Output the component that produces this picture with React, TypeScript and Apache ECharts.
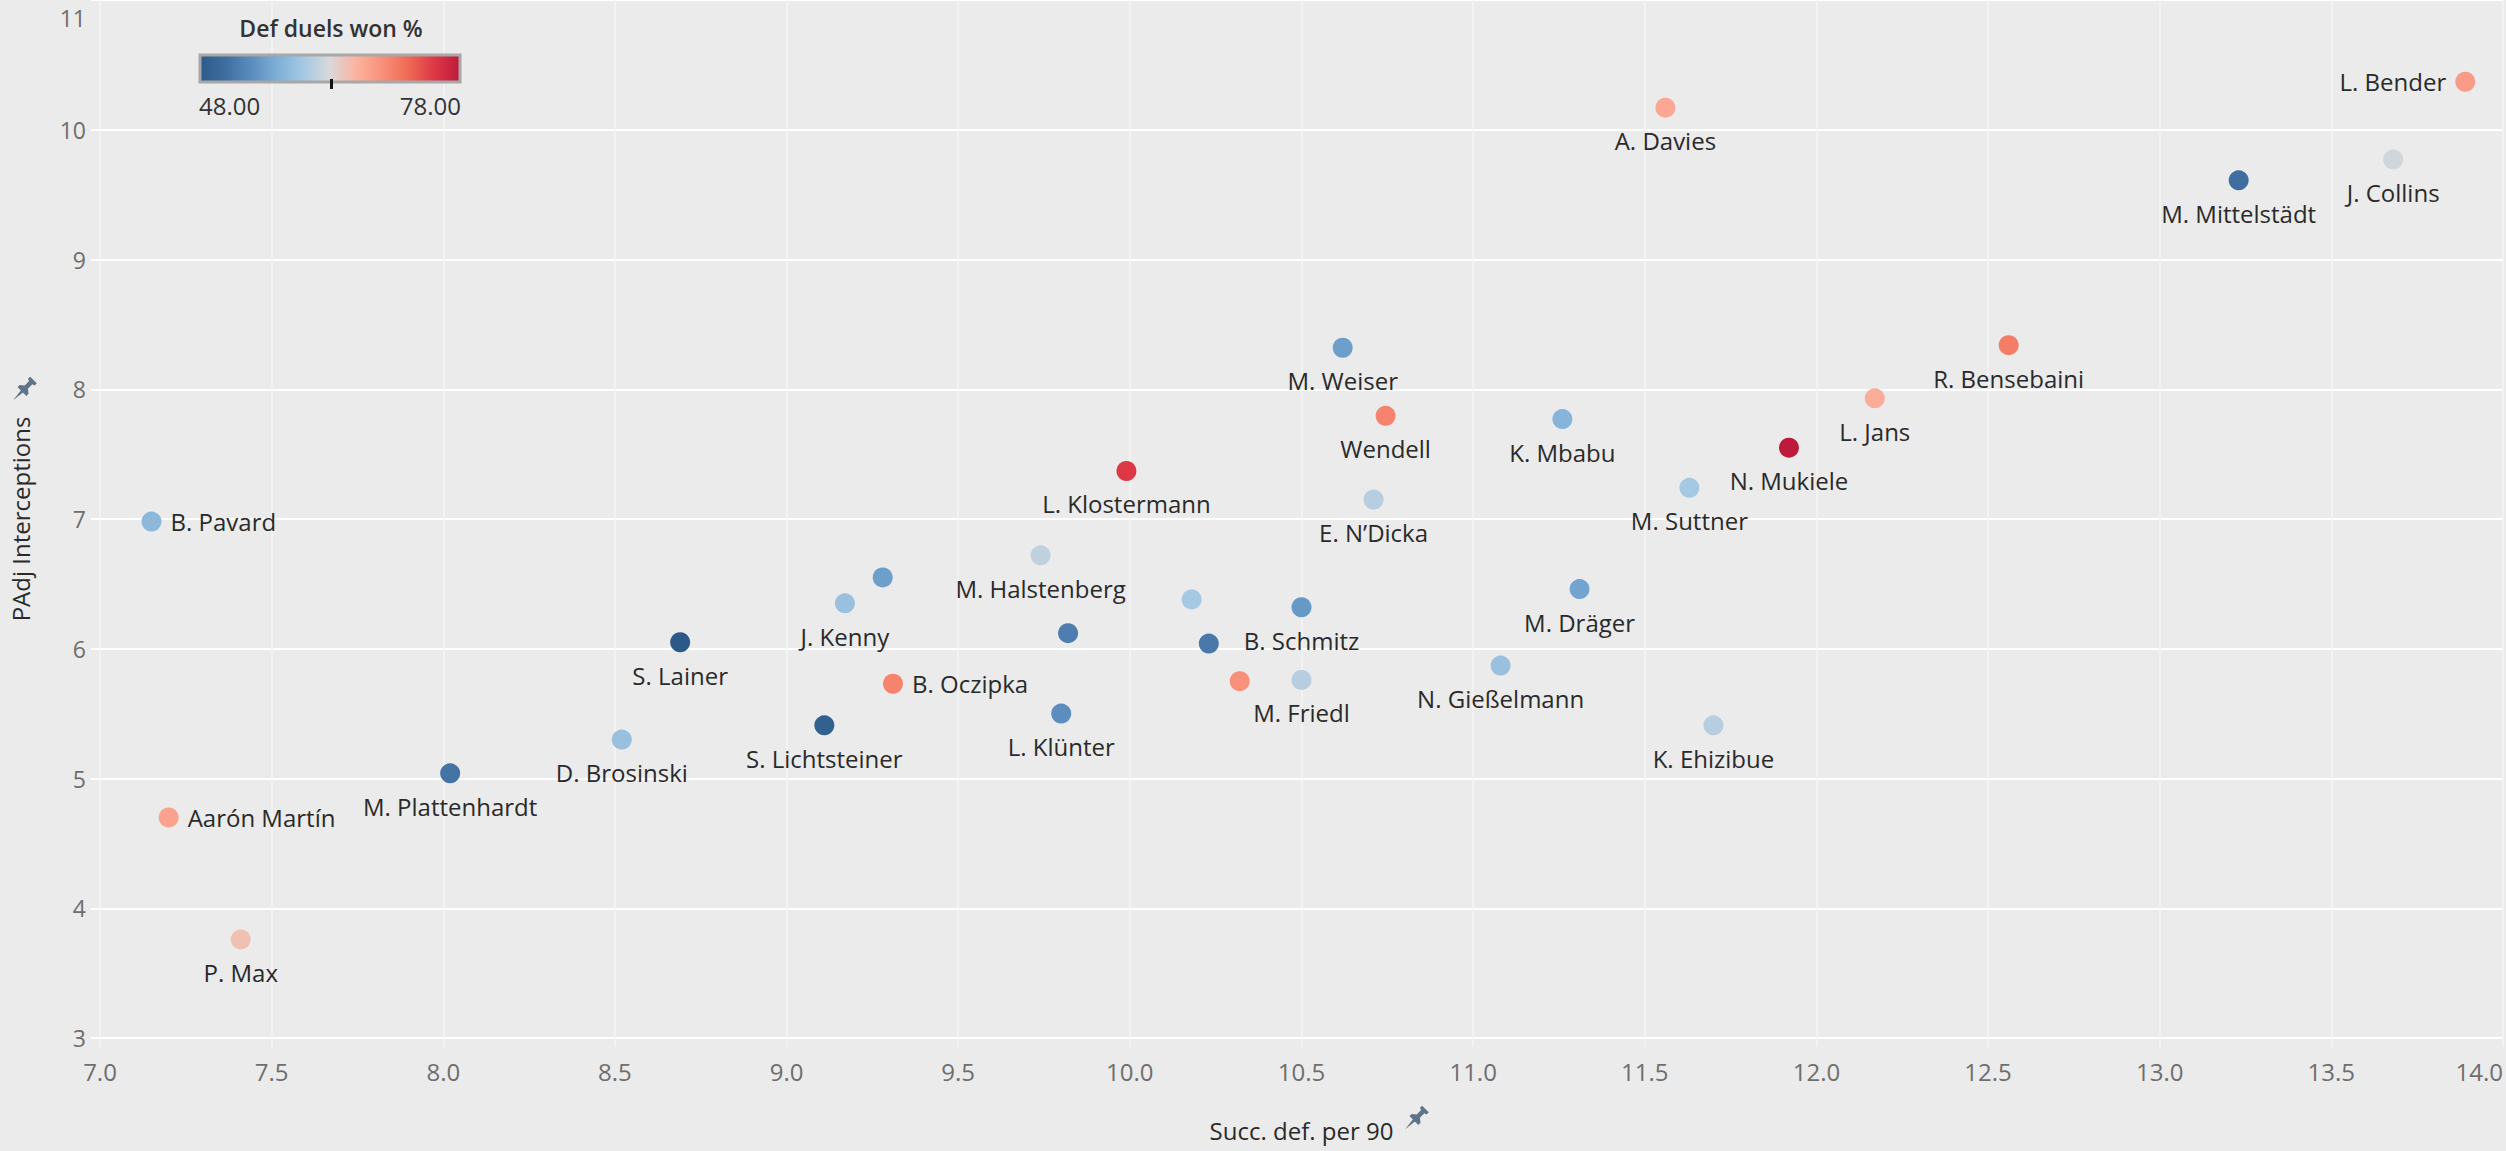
import React, { useEffect, useRef } from "react";
import * as echarts from "echarts";

const names = [
  "L. Bender", "A. Davies", "M. Mittelstädt", "J. Collins", "M. Weiser", "Wendell",
  "L. Klostermann", "E. N\u2019Dicka", "R. Bensebaini", "L. Jans", "K. Mbabu", "N. Mukiele",
  "M. Suttner", "M. Dräger", "K. Ehizibue", "N. Gießelmann", "M. Halstenberg", "",
  "J. Kenny", "", "", "B. Schmitz", "", "B. Oczipka",
  "S. Lichtsteiner", "L. Klünter", "", "M. Friedl", "B. Pavard", "S. Lainer",
  "D. Brosinski", "M. Plattenhardt", "Aarón Martín", "P. Max",
];
const succDefPer90 = [
  13.89, 11.56, 13.23, 13.68, 10.62, 10.745,
  9.99, 10.71, 12.56, 12.17, 11.26, 11.92,
  11.63, 11.31, 11.70, 11.08, 9.74, 9.28,
  9.17, 9.82, 10.18, 10.50, 10.23, 9.31,
  9.11, 9.80, 10.32, 10.50, 7.15, 8.69,
  8.52, 8.02, 7.20, 7.41,
];
const padjInterceptions = [
  10.37, 10.17, 9.61, 9.77, 8.32, 7.795,
  7.37, 7.15, 8.34, 7.93, 7.77, 7.55,
  7.24, 6.46, 5.41, 5.87, 6.72, 6.55,
  6.35, 6.12, 6.38, 6.32, 6.04, 5.73,
  5.41, 5.50, 5.75, 5.76, 6.98, 6.05,
  5.30, 5.04, 4.70, 3.76,
];
const defDuelsWon = [
  68, 67, 51, 62.5, 55.5, 70,
  75, 61, 70.5, 66.5, 57.5, 78,
  60, 56, 61, 59, 61.5, 55.5,
  59, 52.5, 60, 55, 52, 70,
  49, 54, 69, 61, 58, 48,
  59, 51.5, 67.5, 65,
];
const labelSide = [
  "left", "bottom", "bottom", "bottom", "bottom", "bottom",
  "bottom", "bottom", "bottom", "bottom", "bottom", "bottom",
  "bottom", "bottom", "bottom", "bottom", "bottom", "bottom",
  "bottom", "bottom", "bottom", "bottom", "bottom", "right",
  "bottom", "bottom", "bottom", "bottom", "right", "bottom",
  "bottom", "bottom", "right", "bottom",
];
const colorMin = 48;
const colorMax = 78;
const palette = [
  "#2c5a88", "#3f6fa0", "#5b8dbe", "#7fb0d8", "#a6c9e3", "#d9d9d9",
  "#fcb3a0", "#f8907a", "#f06a56", "#dd3845", "#bd1a3c",
];

const FONT = "'Open Sans', 'Noto Sans', sans-serif";
const PIN =
  "M1 23 L8 14 L10 16 Z M5 11 L13 19 L15 17 L14.5 12.5 L18.5 8.5 L20.5 9.5 L22.5 7.5 L16.5 1.5 L14.5 3.5 L15.5 5.5 L11.5 9.5 L7 9 Z";

echarts.graphic.registerShape("pin", (echarts.graphic as any).extendPath(PIN, {}));

export default function App() {
  const ref = useRef<HTMLDivElement>(null);
  useEffect(() => {
    document.body.style.margin = "0";
    const chart = echarts.init(ref.current!, null, { renderer: "svg" });
    const data = names.map((n, i) => ({
      name: n,
      value: [succDefPer90[i], padjInterceptions[i], defDuelsWon[i]],
      label: {
        show: n !== "",
        position: labelSide[i],
        distance: labelSide[i] === "bottom" ? 11 : 9,
      },
    }));
    const stops = palette.map((c, i) => ({
      offset: Math.round((i / (palette.length - 1)) * 1000) / 1000,
      color: c,
    }));
    chart.setOption({
      animation: false,
      backgroundColor: "#ebebeb",
      grid: { left: 99, right: 1, top: 0, bottom: 113 },
      xAxis: {
        type: "value",
        min: 7,
        max: 14,
        interval: 0.5,
        name: "Succ. def. per 90",
        nameLocation: "middle",
        nameGap: 80,
        nameTextStyle: { fontFamily: FONT, fontSize: 24, color: "#2a2a2a", fontWeight: 500 },
        axisLine: { show: false },
        axisTick: { show: true, length: 9, lineStyle: { color: "#f5f5f5", width: 1.5 } },
        axisLabel: {
          fontFamily: FONT,
          fontSize: 24,
          color: "#6e6e6e",
          margin: 21,
          formatter: (v: number) => v.toFixed(1),
          alignMaxLabel: "right",
        },
        splitLine: { show: true, lineStyle: { color: "#f5f5f5", width: 1.5 } },
      },
      yAxis: {
        type: "value",
        min: 3,
        max: 11,
        interval: 1,
        name: "PAdj Interceptions",
        nameLocation: "middle",
        nameGap: 68,
        nameTextStyle: { fontFamily: FONT, fontSize: 24, color: "#2a2a2a", fontWeight: 500 },
        axisLine: { show: false },
        axisTick: { show: true, length: 9, lineStyle: { color: "#ffffff", width: 2 } },
        axisLabel: {
          fontFamily: FONT,
          fontSize: 23,
          color: "#6e6e6e",
          margin: 14,
          formatter: (v: number) => (v === 11 ? "{top|11}" : String(v)),
          rich: {
            top: {
              fontFamily: FONT,
              fontSize: 23,
              color: "#6e6e6e",
              padding: [36, 0, 0, 0],
            },
          },
        },
        splitLine: { show: true, lineStyle: { color: "#ffffff", width: 2 } },
      },
      visualMap: {
        type: "continuous",
        show: false,
        min: colorMin,
        max: colorMax,
        dimension: 2,
        seriesIndex: 0,
        inRange: { color: palette },
      },
      series: [
        {
          type: "scatter",
          symbolSize: 20,
          data,
          label: {
            formatter: "{b}",
            fontFamily: FONT,
            fontSize: 24,
            color: "#2a2a2a",
          },
          itemStyle: { opacity: 1 },
          emphasis: { disabled: true },
        },
      ],
      graphic: [
        {
          type: "group",
          z: 100,
          children: [
            {
              type: "text",
              x: 331,
              y: 28,
              z: 100,
              style: {
                text: "Def duels won %",
                fontFamily: FONT,
                fontSize: 23,
                fontWeight: 600,
                fill: "#333",
                align: "center",
                verticalAlign: "middle",
              },
            },
            {
              type: "rect",
              z: 100,
              shape: { x: 200, y: 55, width: 260, height: 27 },
              style: {
                fill: new echarts.graphic.LinearGradient(0, 0, 1, 0, stops),
                stroke: "#a8a8a8",
                lineWidth: 3,
              },
            },
            {
              type: "rect",
              z: 100,
              shape: { x: 330, y: 79, width: 3, height: 10 },
              style: { fill: "#111" },
            },
            {
              type: "text",
              x: 199,
              y: 105,
              z: 100,
              style: {
                text: colorMin.toFixed(2),
                fontFamily: FONT,
                fontSize: 24,
                fill: "#333",
                verticalAlign: "middle",
              },
            },
            {
              type: "text",
              x: 461,
              y: 105,
              z: 100,
              style: {
                text: colorMax.toFixed(2),
                fontFamily: FONT,
                fontSize: 24,
                fill: "#333",
                align: "right",
                verticalAlign: "middle",
              },
            },
          ],
        },
        {
          type: "pin",
          x: 1404,
          y: 1104,
          scaleX: 1.1,
          scaleY: 1.1,
          z: 100,
          style: { fill: "#5f738a" },
        },
        {
          type: "pin",
          x: 12,
          y: 375,
          scaleX: 1.1,
          scaleY: 1.1,
          z: 100,
          style: { fill: "#5f738a" },
        },
      ],
    });
    return () => chart.dispose();
  }, []);
  return <div ref={ref} style={{ width: 2506, height: 1151 }} />;
}
